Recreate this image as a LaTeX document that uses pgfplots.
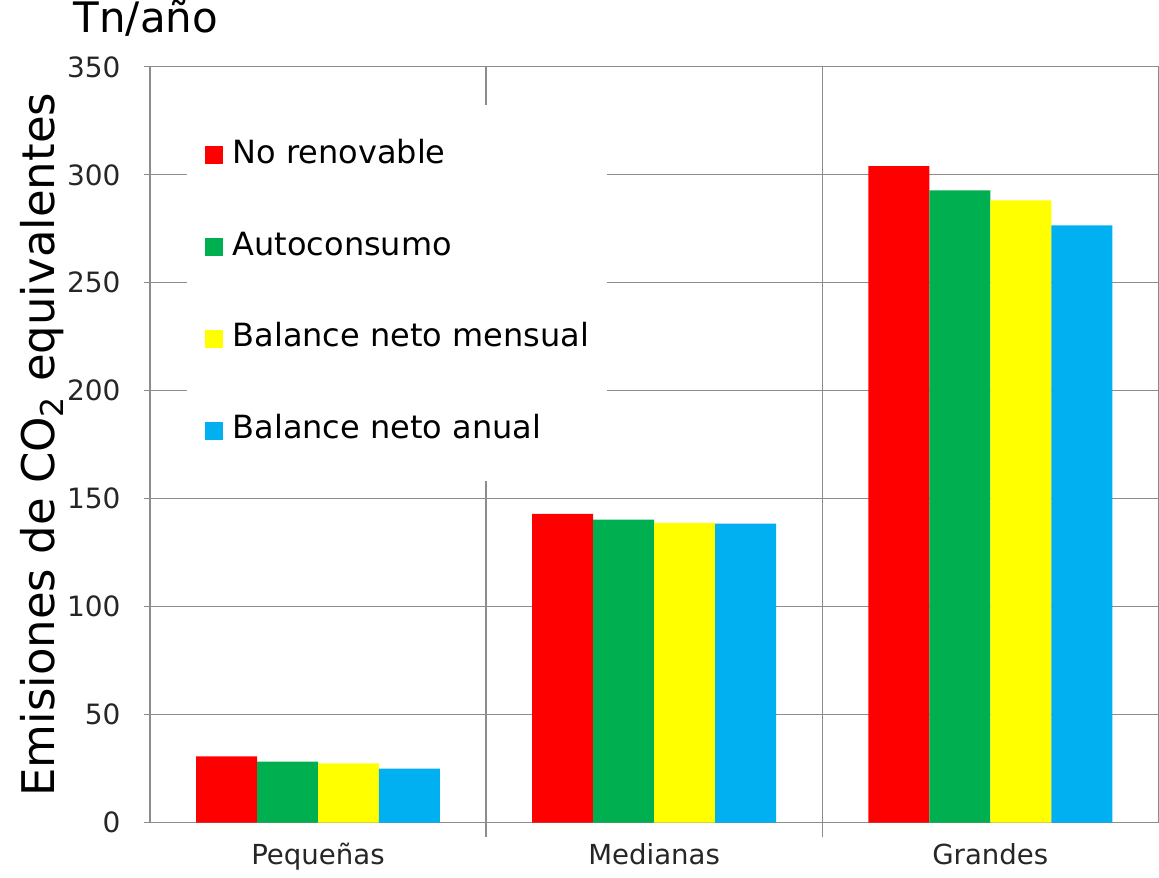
\documentclass[border=0pt]{standalone}
\usepackage{pgfplots}
\pgfplotsset{compat=1.18}
\usepackage{fontspec}
\setmainfont{DejaVu Sans}
\definecolor{cred}{RGB}{255,0,0}
\definecolor{cgreen}{RGB}{0,176,80}
\definecolor{cyellow}{RGB}{255,255,0}
\definecolor{cblue}{RGB}{0,176,240}
\definecolor{gridc}{RGB}{140,140,140}
\begin{document}
\begin{tikzpicture}
\begin{axis}[
  scale only axis, width=504.5pt, height=378pt,
  xmin=-0.5, xmax=2.5, ymin=0, ymax=350,
  ybar=0pt, bar width=30.5pt,
  xtick={0,1,2}, xticklabels={Pequeñas,Medianas,Grandes},
  minor xtick={0.5,1.5},
  xminorgrids, ymajorgrids,
  ytick={0,50,...,350},
  xtick pos=bottom, ytick pos=left,
  tick align=outside,
  major tick length=3pt, minor tick length=7.5pt,
  major x tick style={draw=none},
  tick style={gridc, line width=0.6pt},
  minor grid style={gridc, line width=0.6pt},
  major grid style={gridc, line width=0.6pt},
  axis line style={gridc, line width=0.6pt},
  /pgf/number format/assume math mode=true,
  ticklabel style={font=\fontsize{14}{16}\selectfont, text=black!85},
  yticklabel style={inner sep=1pt, xshift=-10.5pt},
  xticklabel style={font=\fontsize{13.8}{15}\selectfont, yshift=-4pt},
  ylabel={Emisiones de CO\textsubscript{2} equivalentes},
  ylabel style={font=\fontsize{22.5}{25}\selectfont, at={(axis description cs:-0.107,0.5)}, anchor=center},
  title={Tn/año},
  title style={font=\fontsize{21}{24}\selectfont, inner sep=0pt, at={(axis description cs:-0.004,1.0295)}, anchor=base},
  legend style={draw=none, fill=white, at={(0.036,0.95)}, anchor=north west,
    font=\fontsize{16}{18}\selectfont, inner xsep=9pt, inner ysep=17pt,
    row sep=30pt, column sep=5pt,
    nodes={inner sep=0pt, text height=12pt, text depth=4pt}},
  legend cell align=left,
  legend image code/.code={\fill[#1] (0pt,-4.5pt) rectangle (9pt,4.5pt);},
  clip=false,
]
\addplot[fill=cred, draw=none] coordinates {(0,30.6) (1,143) (2,304)};
\addplot[fill=cgreen, draw=none] coordinates {(0,28.2) (1,140.3) (2,292.8)};
\addplot[fill=cyellow, draw=none] coordinates {(0,27.4) (1,138.8) (2,288.2)};
\addplot[fill=cblue, draw=none] coordinates {(0,25) (1,138.4) (2,276.6)};
\legend{No renovable, Autoconsumo, Balance neto mensual, Balance neto anual}
\end{axis}
\useasboundingbox (current axis.south west) ++(-75pt,-25pt) rectangle ([yshift=31pt]current axis.north east);
\end{tikzpicture}
\end{document}
